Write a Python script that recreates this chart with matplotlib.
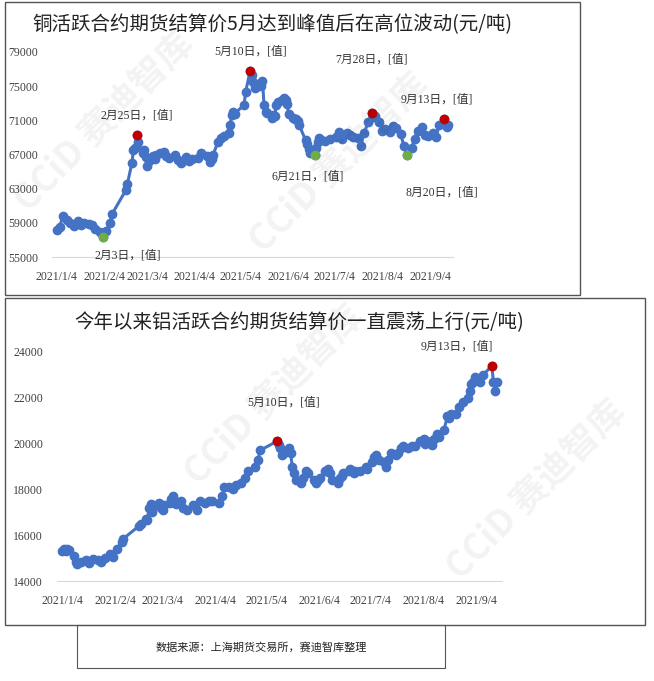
import matplotlib
matplotlib.use("Agg")
import matplotlib.pyplot as plt
import matplotlib.dates as mdates
from matplotlib.patches import Rectangle
import pandas as pd

plt.rcParams["font.family"] = ["Liberation Serif", "Noto Sans CJK SC"]

# copper (元/吨)
cu_dates = ["1/4", "1/6", "1/8", "1/11", "1/13", "1/15", "1/18", "1/20", "1/22", "1/25", "1/27", "1/29",
            "2/1", "2/3", "2/5", "2/8", "2/9", "2/18", "2/19", "2/22", "2/23", "2/24", "2/25", "2/26",
            "3/1", "3/2", "3/3", "3/4", "3/5", "3/8", "3/9", "3/10", "3/12", "3/15", "3/16", "3/18",
            "3/22", "3/24", "3/26", "3/29", "3/31", "4/2", "4/6", "4/8", "4/12", "4/14", "4/15", "4/16",
            "4/19", "4/21", "4/23", "4/26", "4/27", "4/28", "4/29", "4/30", "5/6", "5/7", "5/10", "5/11",
            "5/12", "5/13", "5/14", "5/17", "5/18", "5/19", "5/20", "5/21", "5/24", "5/25", "5/26", "5/27",
            "5/28", "5/31", "6/1", "6/2", "6/3", "6/4", "6/7", "6/8", "6/9", "6/10", "6/11", "6/15",
            "6/16", "6/17", "6/18", "6/21", "6/22", "6/23", "6/24", "6/25", "6/28", "7/1", "7/5", "7/7",
            "7/9", "7/12", "7/14", "7/16", "7/19", "7/21", "7/23", "7/26", "7/28", "7/29", "7/30", "8/2",
            "8/4", "8/6", "8/9", "8/11", "8/13", "8/16", "8/18", "8/20", "8/23", "8/25", "8/27", "8/30",
            "9/1", "9/3", "9/6", "9/8", "9/10", "9/13", "9/14", "9/15", "9/16"]
cu_values = [58200, 58500, 59800, 59300, 59000, 58600, 59200, 58800, 59000, 58900, 58700, 58300,
             57900, 57400, 58000, 59000, 60000, 62800, 63500, 66000, 67500, 67800, 69300, 68500,
             67200, 67500, 66700, 65700, 66200, 66800, 66500, 67000, 67200, 67300, 66800, 66600,
             67000, 66300, 66000, 66700, 66200, 66500, 66600, 67200, 66800, 66100, 66500, 67000,
             68500, 68900, 69200, 69500, 70500, 71600, 72000, 71800, 72800, 74300, 76800, 76300,
             75500, 74800, 74900, 75000, 75600, 72800, 72000, 71900, 71300, 71600, 71500, 72800,
             73200, 73400, 73600, 73400, 72900, 71800, 71300, 71200, 71100, 70900, 70400, 68700,
             68200, 67600, 67200, 67000, 67800, 68500, 68900, 68700, 68600, 68800, 69000, 69600,
             68800, 69500, 69300, 69000, 68900, 68000, 69500, 70800, 71900, 71400, 71500, 70800,
             69800, 70000, 69600, 70300, 70100, 69400, 68000, 66900, 67800, 68800, 69800, 70200,
             69300, 69200, 69500, 69100, 70400, 71200, 70600, 70200, 70500]
cu_high = ["2/25", "5/10", "7/28", "9/13"]
cu_low = ["2/3", "6/21", "8/20"]

# aluminium (元/吨)
al_dates = ["1/4", "1/5", "1/6", "1/7", "1/8", "1/11", "1/12", "1/13", "1/15", "1/18", "1/20", "1/22",
            "1/25", "1/27", "1/29", "2/1", "2/3", "2/5", "2/8", "2/9", "2/18", "2/19", "2/22", "2/23",
            "2/24", "2/25", "2/26", "3/1", "3/2", "3/3", "3/4", "3/5", "3/8", "3/9", "3/10", "3/11",
            "3/12", "3/15", "3/16", "3/18", "3/22", "3/24", "3/26", "3/29", "3/31", "4/2", "4/6", "4/8",
            "4/9", "4/12", "4/14", "4/16", "4/19", "4/21", "4/23", "4/27", "4/29", "4/30", "5/10", "5/11",
            "5/12", "5/13", "5/14", "5/17", "5/18", "5/19", "5/20", "5/21", "5/24", "5/25", "5/27", "5/28",
            "6/1", "6/2", "6/3", "6/4", "6/7", "6/8", "6/9", "6/10", "6/11", "6/15", "6/16", "6/17",
            "6/18", "6/21", "6/22", "6/24", "6/25", "6/28", "7/1", "7/2", "7/5", "7/6", "7/7", "7/9",
            "7/12", "7/13", "7/14", "7/16", "7/19", "7/20", "7/22", "7/23", "7/26", "7/28", "7/30", "8/2",
            "8/4", "8/5", "8/6", "8/9", "8/10", "8/12", "8/13", "8/16", "8/18", "8/19", "8/20", "8/23",
            "8/25", "8/27", "8/30", "8/31", "9/1", "9/2", "9/3", "9/6", "9/8", "9/13", "9/14", "9/15", "9/16"]
al_values = [15300, 15400, 15300, 15400, 15350, 15100, 14850, 14750, 14850, 14900, 14800, 14950,
             14900, 14850, 15000, 15200, 15050, 15400, 15700, 15850, 16400, 16500, 16700, 16650,
             17200, 17350, 17000, 17300, 17400, 17200, 17100, 17300, 17400, 17600, 17700, 17500,
             17350, 17500, 17200, 17100, 17300, 17100, 17500, 17400, 17500, 17500, 17400, 17700,
             18100, 18100, 18000, 18200, 18300, 18500, 18800, 19000, 19300, 19700, 20100, 19950,
             19800, 19500, 19600, 19800, 19600, 19000, 18700, 18400, 18300, 18500, 18800, 18700,
             18400, 18300, 18400, 18500, 18800, 18800, 18900, 18700, 18400, 18300, 18500, 18600,
             18700, 18800, 18900, 18700, 18800, 18800, 19000, 18900, 19200, 19400, 19500, 19300,
             19200, 19000, 19300, 19600, 19500, 19600, 19800, 19900, 19800, 19900, 19900, 20100,
             20200, 20000, 20100, 19950, 20200, 20400, 20300, 20600, 21200, 21100, 21300, 21300,
             21600, 21800, 22000, 22300, 22600, 22700, 22900, 22700, 23000, 23400, 22700, 22300, 22700]
al_high = ["5/10", "9/13"]

x_ticks = ["1/4", "2/4", "3/4", "4/4", "5/4", "6/4", "7/4", "8/4", "9/4"]


def to_dt(md):
    return pd.to_datetime(["2021/" + d for d in md])


def series(dates, values):
    return pd.Series(values, index=to_dt(dates))


blue = "#4472C4"
fig = plt.figure(figsize=(6.54, 6.81), dpi=100)
W, H = 654, 681


def frame(x0, y0, x1, y1, lw=1.0):
    fig.patches.append(Rectangle((x0 / W, 1 - y1 / H), (x1 - x0) / W, (y1 - y0) / H,
                                 transform=fig.transFigure, fill=False, ec="#555555", lw=lw))


def panel(rect, s, highs, lows, ylim, yticks, title, title_y, labels):
    ax = fig.add_axes(rect)
    ax.plot(s.index, s.values, "-o", color=blue, ms=6, lw=2.2)
    h = s[to_dt(highs)]
    ax.plot(h.index, h.values, "o", color="#C00000", ms=6, zorder=5)
    if lows:
        lo = s[to_dt(lows)]
        ax.plot(lo.index, lo.values, "o", color="#70AD47", ms=6, zorder=5)
    for d, dx, dy in labels:
        t = to_dt([d])[0]
        m, dd = d.split("/")
        ax.annotate(f"{m}月{dd}日，[值]", (t, s[t]), xytext=(dx, dy), textcoords="offset points",
                    ha="center", va="center", fontsize=8.5, color="#333333")
    ax.set_ylim(*ylim)
    ax.set_yticks(yticks)
    ax.set_xlim(pd.Timestamp("2021-01-01"), pd.Timestamp("2021-09-19"))
    ax.set_xticks(to_dt(x_ticks))
    ax.xaxis.set_major_formatter(mdates.DateFormatter("%Y/%-m/%-d"))
    for sp in ["top", "right", "left"]:
        ax.spines[sp].set_visible(False)
    ax.spines["bottom"].set_color("#D9D9D9")
    ax.tick_params(length=0, labelsize=8.5, colors="#404040", pad=10)
    fig.text(rect[0] + rect[2] / 2 + 0.03, title_y, title, ha="center", va="center",
             fontsize=14, fontfamily="Noto Sans CJK SC", color="#222222")
    return ax


frame(5, 2, 580, 295)
frame(5, 298, 645, 625)
frame(77, 625, 445, 668, lw=0.8)

panel([52 / W, 1 - 257 / H, 401 / W, 205 / H], series(cu_dates, cu_values), cu_high, cu_low,
      (55000, 79000), range(55000, 79001, 4000),
      "铜活跃合约期货结算价5月达到峰值后在高位波动(元/吨)", 1 - 25 / H,
      [("2/25", 0, 14), ("5/10", 0, 14), ("7/28", 0, 38), ("9/13", -5, 14),
       ("2/3", 18, -14), ("6/21", -5, -16), ("8/20", 25, -27)])

panel([57 / W, 1 - 581 / H, 445 / W, 229 / H], series(al_dates, al_values), al_high, [],
      (14000, 24000), range(14000, 24001, 2000),
      "今年以来铝活跃合约期货结算价一直震荡上行(元/吨)", 1 - 323 / H,
      [("5/10", 5, 28), ("9/13", -25, 14)])

fig.text(261 / W, 1 - 647 / H, "数据来源：上海期货交易所，赛迪智库整理", ha="center", va="center",
         fontsize=8, fontfamily="Noto Sans CJK SC", color="#222222")

# watermark
for x, y in [(0.16, 0.82), (0.52, 0.76), (0.42, 0.42), (0.82, 0.28)]:
    fig.text(x, y, "CCiD 赛迪智库", rotation=45, fontsize=26, color="#000000", alpha=0.05,
             ha="center", va="center", fontfamily="Noto Sans CJK SC", fontweight="bold")

fig.savefig("out.png", dpi=100)
